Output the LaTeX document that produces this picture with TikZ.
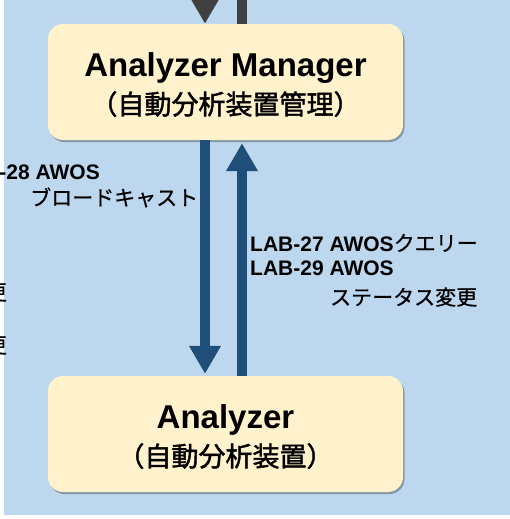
\documentclass[tikz,border=0pt]{standalone}
\usepackage{fontspec}
\setmainfont{Liberation Sans}[BoldFont=Liberation Sans Bold]
\newfontfamily\cjk{Noto Sans CJK JP}[FakeBold=0.6]
\newfontfamily\cjkheavy{Noto Sans CJK JP}[FakeBold=1.6]
\usetikzlibrary{arrows.meta,shadows}
\definecolor{panelblue}{HTML}{BDD7EE}
\definecolor{boxcream}{HTML}{FFF2CC}
\definecolor{flowblue}{HTML}{1F4E79}
\definecolor{flowgray}{HTML}{404040}
\begin{document}
\begin{tikzpicture}[x=1pt,y=-1pt,
  unit/.style={fill=boxcream, rounded corners=15pt, minimum width=355pt,
    minimum height=116pt, inner sep=0pt,
    drop shadow={shadow xshift=1.5pt, shadow yshift=-2pt, opacity=0.3, fill=black}},
  title/.style={font=\fontsize{33}{36}\selectfont\bfseries, inner sep=0pt, anchor=base},
  subtitle/.style={font=\fontsize{27}{30}\selectfont\cjkheavy, inner sep=0pt, anchor=base},
  msg/.style={font=\fontsize{21}{24}\selectfont, inner sep=0pt},
  flow/.style={line width=10pt, -{Triangle[width=30pt,length=28pt]}},
]
\useasboundingbox (0,0) rectangle (510,519);
\clip (0,0) rectangle (510,519);
% panel
\fill[panelblue] (4,0) rectangle (510,515);

% units
\node[unit] (am) at (225.5,82) {};
\node[unit] (an) at (225.5,434) {};
\node[title] (amtitle) at (225.5,77) {Analyzer Manager};
\node[subtitle] (amsub) at (225.5,114.3) {（自動分析装置管理）};
\node[title] (antitle) at (225.5,428) {Analyzer};
\node[subtitle] (ansub) at (225.5,466.3) {（自動分析装置）};

% links to the upper system
\coordinate (feedin) at (205,-40);
\coordinate (feedout) at (241.5,-40);
\draw[flow, flowgray] (feedin) -- ([xshift=-20.5pt]am.north);
\draw[line width=10pt, flowgray] ([xshift=16pt]am.north) -- (feedout);

% manager <-> analyzer
\draw[flow, flowblue, shorten >=2pt] ([xshift=-20.5pt]am.south) -- ([xshift=-20.5pt]an.north);
\draw[flow, flowblue, shorten >=3pt] ([xshift=16.5pt]an.north) -- ([xshift=16.5pt]am.south);

% message labels
\node[msg, anchor=base east] (l28) at (100,179) {\bfseries LAB-28 AWOS};
\node[msg, anchor=base west] (l28b) at (30,205.5) {\cjk ブロードキャスト};
\node[msg, anchor=base east] (lchga) at (7,300) {\cjk 更};
\node[msg, anchor=base east] (lchgb) at (7,353) {\cjk 更};
\node[msg, anchor=base west] (l27) at (250,251) {{\bfseries LAB-27 AWOS}{\cjk クエリー}};
\node[msg, anchor=base west] (l29) at (250,275) {\bfseries LAB-29 AWOS};
\node[msg, anchor=base west] (l29b) at (330,305) {\cjk ステータス変更};
\end{tikzpicture}
\end{document}
